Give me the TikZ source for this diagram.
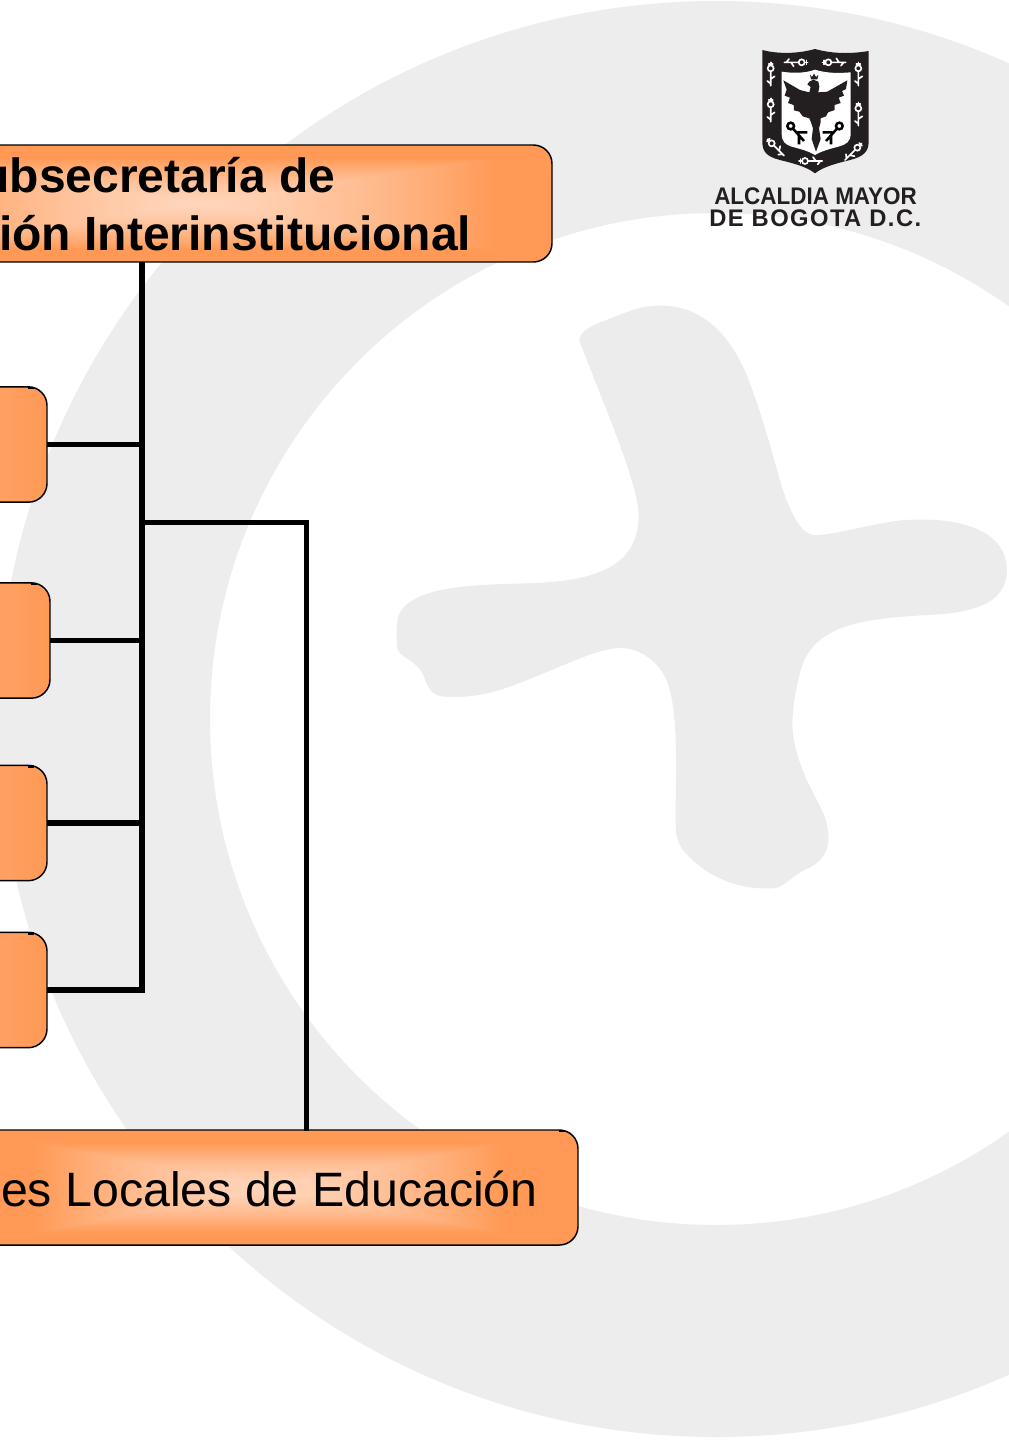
\documentclass[tikz,border=0pt]{standalone}
\usepackage{fontspec}
\setmainfont{Liberation Sans}
\newfontfamily\crestfont[LetterSpace=6]{Liberation Sans}
\definecolor{ringgrey}{HTML}{EDEDED}
\definecolor{crossgrey}{HTML}{ECECEC}
\definecolor{crestblack}{HTML}{231F20}
\definecolor{boxorange}{HTML}{FF9955}
\definecolor{boxlight}{HTML}{FFA56C}
\definecolor{boxmid}{HTML}{FF9F5F}
% rectangular "path" gradient: light centre, orange towards the edges
\pgfdeclarefunctionalshading{topglow}{\pgfpointorigin}{\pgfpoint{100bp}{100bp}}{}{
  50 sub abs 19.6 div exch 50 sub abs 21.0 div 2 copy lt {exch} if pop
  dup 1 gt {pop 1} if dup dup mul add 0.5 mul
  dup -0.239 mul 0.839 add exch -0.404 mul 0.737 add 1 3 1 roll}
\pgfdeclarefunctionalshading{dirglow}{\pgfpointorigin}{\pgfpoint{100bp}{100bp}}{}{
  50 sub abs 19.5 div exch 50 sub abs 19.0 div 2 copy lt {exch} if pop
  dup 1 gt {pop 1} if dup dup mul add 0.5 mul
  dup -0.239 mul 0.839 add exch -0.404 mul 0.737 add 1 3 1 roll}
\tikzset{
  orgbox/.style={draw=black,line width=1.1pt,rounded corners=14pt,inner sep=0pt,outer sep=0pt,anchor=east},
  smallbox/.style={orgbox,minimum width=60pt,minimum height=86.5pt,left color=boxlight,middle color=boxmid,right color=boxorange},
  bus/.style={line width=4.5pt,black,line join=miter},
  stub/.style={line width=4.3pt,black},
  branch/.style={line width=3.6pt,black,line join=miter},
  boxtext/.style={anchor=base east,inner sep=0pt,text=black},
  cresttext/.style={text=crestblack,inner sep=0pt,anchor=base west},
  orn/.style={white,line width=1.25pt,line cap=round},
  tick/.style={black,line width=1.9pt},
}
\newcommand{\crestorn}[3]{%
  \begin{scope}[shift={(#1,#2)},rotate=#3]
    \draw[orn] (0,0) circle (9);
    \draw[orn] (0,-10) -- (0,-18) (-6,-14) -- (6,-14);
    \draw[orn] (0,9) -- (0,52) (0,32) -- (12,24) (0,46) -- (-10,38);
  \end{scope}}
\begin{document}
\begin{tikzpicture}[x=0.75pt,y=-0.75pt]
\useasboundingbox (0,0) rectangle (1009,1440);
\clip (0,0) rectangle (1009,1440);
\fill[white] (0,0) rectangle (1009,1440);
% background ring and cross
\fill[ringgrey,even odd rule] (716,719) circle (718) (716,719) circle (506);
\begin{scope}[shift={(380,290)},x=0.3008pt,y=-0.2918pt]
\fill[crossgrey] (497,130) .. controls (497,105) and (530,90) .. (570,75)
 .. controls (620,55) and (650,40) .. (700,40)
 .. controls (800,40) and (870,110) .. (915,220)
 .. controls (960,340) and (985,450) .. (1005,515)
 .. controls (1030,590) and (1055,630) .. (1085,630)
 .. controls (1130,630) and (1230,600) .. (1300,592)
 .. controls (1450,580) and (1563,620) .. (1563,720)
 .. controls (1563,810) and (1470,830) .. (1370,835)
 .. controls (1200,845) and (1080,860) .. (1048,980)
 .. controls (1020,1100) and (1020,1150) .. (1060,1250)
 .. controls (1090,1320) and (1118,1350) .. (1118,1410)
 .. controls (1118,1450) and (1095,1475) .. (1060,1490)
 .. controls (1030,1505) and (1005,1535) .. (985,1537)
 .. controls (900,1545) and (830,1510) .. (790,1475)
 .. controls (750,1440) and (737,1420) .. (737,1370)
 .. controls (737,1250) and (745,1100) .. (720,1020)
 .. controls (705,960) and (650,920) .. (600,920)
 .. controls (540,920) and (440,975) .. (360,1005)
 .. controls (290,1035) and (230,1050) .. (160,1045)
 .. controls (130,1045) and (118,1020) .. (110,995)
 .. controls (95,950) and (42,945) .. (42,915)
 .. controls (42,890) and (40,870) .. (45,840)
 .. controls (70,765) and (220,758) .. (330,755)
 .. controls (480,752) and (645,740) .. (645,580)
 .. controls (645,500) and (560,300) .. (497,130) -- cycle;
\end{scope}
% crest
\begin{scope}[shift={(750,45)},x=0.25pt,y=-0.25pt]
\fill[crestblack] (37,15) .. controls (70,24) and (130,30) .. (195,12)
 .. controls (260,30) and (320,24) .. (356,18) -- (356,290)
 .. controls (356,320) and (340,335) .. (300,345)
 .. controls (260,355) and (220,365) .. (195,385)
 .. controls (170,365) and (130,355) .. (90,345)
 .. controls (50,335) and (37,320) .. (37,290) -- cycle;
\fill[white] (95,80) .. controls (130,85) and (165,85) .. (195,74)
 .. controls (230,85) and (265,85) .. (302,82) -- (302,265)
 .. controls (302,290) and (290,298) .. (265,305)
 .. controls (235,313) and (215,318) .. (195,330)
 .. controls (175,318) and (155,313) .. (125,305)
 .. controls (105,298) and (95,290) .. (95,265) -- cycle;
\fill[crestblack] (178,110) -- (190,104) -- (205,110) -- (208,125) -- (205,142) -- (232,140)
 -- (292,106) -- (288,132) -- (276,138) -- (282,152) -- (266,158) -- (272,174) -- (254,180)
 -- (254,195) -- (234,202) -- (228,214) -- (212,220) -- (212,232) -- (207,250) -- (212,282)
 -- (198,320) -- (185,282) -- (189,250) -- (183,232) -- (178,220) -- (158,214) -- (148,200)
 -- (132,196) -- (131,180) -- (114,174) -- (120,158) -- (104,152) -- (110,134) -- (100,106)
 -- (150,135) -- (178,142) -- (182,126) -- (172,118) -- cycle;
\fill[crestblack] (180,89) -- (186,96) -- (192,86) -- (198,96) -- (205,89) -- (202,103) -- (183,103) -- cycle;
\draw[tick] (122,243) circle (10) (130,252) -- (162,288) (147,270) -- (147,298) (143,262) -- (172,262);
\draw[tick] (268,243) circle (10) (260,252) -- (228,288) (243,270) -- (243,298) (247,262) -- (218,262);
\crestorn{62}{70}{0}
\crestorn{62}{178}{0}
\crestorn{325}{70}{0}
\crestorn{325}{190}{0}
\crestorn{155}{52}{-90}
\crestorn{235}{52}{90}
\crestorn{165}{348}{90}
\crestorn{65}{295}{45}
\crestorn{322}{308}{-45}
\end{scope}
\node[cresttext,font=\fontsize{18}{18}\selectfont\bfseries] (alcaldia) at (714,204) {\scalebox{.936}[1]{ALCALDIA MAYOR}};
\node[cresttext,font=\fontsize{18}{18}\crestfont\bfseries] (bogota) at (709,226) {\scalebox{.99}[1]{DE BOGOTA D.C.}};
% connectors
\coordinate (busTop) at (142,262);
\coordinate (busCorner) at (142,990);
\coordinate (busJoint) at (142,522.5);
\coordinate (branchCorner) at (306.5,522.5);
\coordinate (dirIn) at (306.5,1131);
% boxes
\node[orgbox,shading=topglow,minimum width=528pt,minimum height=87.75pt] (sub) at (552,203.5) {};
\node[orgbox,shading=dirglow,minimum width=465pt,minimum height=86.25pt] (dir) at (578,1187.5) {};
\node[smallbox] (b1) at (47,444.5) {};
\node[smallbox] (b2) at (50,640.5) {};
\node[smallbox] (b3) at (47,823) {};
\node[smallbox] (b4) at (47,990) {};
\foreach \n in {b1,b2,b3,b4,dir}
  \draw[line width=1.9pt] ([xshift=-14.5pt,yshift=-0.7pt]\n.north east) -- ([xshift=-9.5pt,yshift=-0.7pt]\n.north east);
\draw[bus] (busTop) -- (busCorner) -- (b4.east);
\foreach \n in {b1,b2,b3}
  \draw[stub] (\n.east) -- (\n.east -| busTop);
\draw[branch] (busJoint) -- (branchCorner) -- (dirIn);
% labels
\node[boxtext,font=\fontsize{36}{36}\selectfont\bfseries] (subA) at (335.5,192) {ubsecretaría de};
\node[boxtext,font=\fontsize{36}{36}\selectfont\bfseries] (subB) at (471.5,250) {ión Interinstitucional};
\node[boxtext,font=\fontsize{36.2}{36}\selectfont] (dirT) at (538,1206) {es Locales de Educación};
\end{tikzpicture}
\end{document}
